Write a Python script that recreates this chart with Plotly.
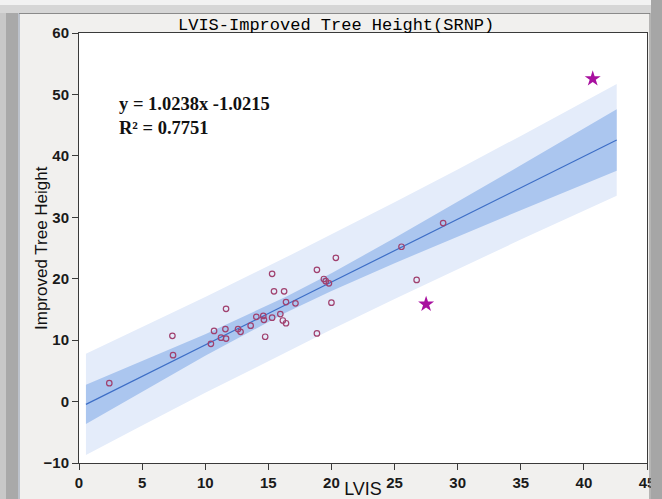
import plotly.graph_objects as go

# ---- data ----
lvis = [2.4, 7.4, 7.45, 10.45, 10.7, 11.25, 11.65, 11.6, 11.65, 12.6, 12.8, 13.6,
        14.05, 14.6, 14.65, 14.75, 15.3, 15.3, 15.45, 15.95, 16.15, 16.25, 16.4, 16.4,
        17.15, 18.85, 18.85, 19.4, 19.55, 19.8, 20.0, 20.35, 25.55, 28.85, 26.75]
height = [3.0, 10.7, 7.55, 9.4, 11.5, 10.4, 10.25, 11.8, 15.1, 11.8, 11.35, 12.35,
          13.8, 13.95, 13.3, 10.55, 13.65, 20.8, 17.95, 14.25, 13.2, 17.95, 12.75, 16.2,
          16.0, 21.45, 11.1, 19.95, 19.6, 19.25, 16.1, 23.4, 25.2, 29.05, 19.8]
outlier_x = [27.5, 40.7]
outlier_y = [15.85, 52.55]

band_x = [0.55, 5, 10, 16.4, 20, 25, 30, 35, 42.6]
fit_y = [-0.46, 4.10, 9.22, 15.77, 19.46, 24.57, 29.69, 34.81, 42.59]
conf_upper = [2.74, 6.57, 10.97, 17.06, 20.90, 26.61, 32.50, 38.47, 47.59]
conf_lower = [-3.66, 1.63, 7.47, 14.48, 18.02, 22.53, 26.88, 31.15, 37.59]
pred_upper = [7.79, 12.09, 17.02, 23.48, 27.20, 32.44, 37.79, 43.25, 51.69]
pred_lower = [-8.71, -3.89, 1.42, 8.06, 11.72, 16.70, 21.59, 26.37, 33.49]

x_ticks = [0, 5, 10, 15, 20, 25, 30, 35, 40, 45]
y_ticks = [-10, 0, 10, 20, 30, 40, 50, 60]

title_text = "LVIS-Improved Tree Height(SRNP)"
x_title = "LVIS"
y_title = "Improved Tree Height"
eq_text = "y = 1.0238x -1.0215"
r2_text = "R² = 0.7751"

W, H = 662, 499
L, R, T, B = 79, 647, 33, 463  # plot area in pixels


def px(xp):
    return (xp - L) / (R - L)


def py(yp):
    return (B - yp) / (B - T)


fig = go.Figure()

fig.add_trace(go.Scatter(
    x=band_x + band_x[::-1], y=pred_upper + pred_lower[::-1],
    fill="toself", fillcolor="#e4ecfa", line=dict(width=0), mode="lines",
    hoverinfo="skip", showlegend=False))
fig.add_trace(go.Scatter(
    x=band_x + band_x[::-1], y=conf_upper + conf_lower[::-1],
    fill="toself", fillcolor="#abc6ef", line=dict(width=0), mode="lines",
    hoverinfo="skip", showlegend=False))
fig.add_trace(go.Scatter(
    x=band_x, y=fit_y, mode="lines", line=dict(color="#3d6ec6", width=1.2),
    showlegend=False))
fig.add_trace(go.Scatter(
    x=lvis, y=height, mode="markers",
    marker=dict(symbol="circle-open", size=5.5, color="#a0406e", line=dict(width=1.2)),
    showlegend=False))
fig.add_trace(go.Scatter(
    x=outlier_x, y=outlier_y, mode="markers",
    marker=dict(symbol="star", size=12, color="#a8109f"),
    showlegend=False))

axis_common = dict(showgrid=False, zeroline=False, showline=True, mirror=True,
                   linecolor="#3a3a3a", linewidth=1, ticks="outside", ticklen=6,
                   tickcolor="#3a3a3a", automargin=False,
                   tickfont=dict(family="Liberation Sans", size=15, color="#1a1a1a",
                                 weight="bold"))

fig.update_xaxes(range=[0, 45], tickvals=x_ticks, **axis_common,
                 title=dict(text=x_title, standoff=0,
                            font=dict(family="Liberation Sans", size=18, color="#111")))
fig.update_yaxes(range=[-10, 60], tickvals=y_ticks, **axis_common)

shapes = [
    # window frame
    dict(type="rect", xref="paper", yref="paper", x0=px(0), x1=px(18), y0=py(0), y1=py(H),
         fillcolor="#a9a9a9", line=dict(width=0), layer="above"),
    dict(type="rect", xref="paper", yref="paper", x0=px(0), x1=px(6), y0=py(0), y1=py(H),
         fillcolor="#c8c8c8", line=dict(width=0), layer="above"),
    dict(type="rect", xref="paper", yref="paper", x0=px(0), x1=px(W), y0=py(0), y1=py(13),
         fillcolor="#d6d6d6", line=dict(width=0), layer="above"),
    dict(type="rect", xref="paper", yref="paper", x0=px(0), x1=px(W), y0=py(0), y1=py(5),
         fillcolor="#f2f2f2", line=dict(width=0), layer="above"),
    dict(type="rect", xref="paper", yref="paper", x0=px(651), x1=px(W), y0=py(0), y1=py(H),
         fillcolor="#a6a6a6", line=dict(width=0), layer="above"),
    dict(type="line", xref="paper", yref="paper", x0=px(19), x1=px(19), y0=py(13), y1=py(H),
         line=dict(color="#8894a8", width=1), layer="above"),
    dict(type="line", xref="paper", yref="paper", x0=px(19), x1=px(650), y0=py(13.5), y1=py(13.5),
         line=dict(color="#8a8a8a", width=1), layer="above"),
    dict(type="line", xref="paper", yref="paper", x0=px(650), x1=px(650), y0=py(13), y1=py(H),
         line=dict(color="#7a7a7a", width=1), layer="above"),
]

annotations = [
    dict(text=title_text, xref="paper", yref="paper", x=px(336), y=py(25),
         xanchor="center", yanchor="middle", showarrow=False,
         font=dict(family="Liberation Mono", size=17, color="#000000")),
    dict(text=y_title, xref="paper", yref="paper", x=px(41), y=py(248),
         xanchor="center", yanchor="middle", showarrow=False, textangle=-90,
         font=dict(family="Liberation Sans", size=17, color="#111")),
    dict(text=eq_text, xref="paper", yref="paper", x=px(117), y=py(104),
         xanchor="left", yanchor="middle", showarrow=False,
         font=dict(family="Liberation Serif", size=18.5, color="#111", weight="bold")),
    dict(text=r2_text, xref="paper", yref="paper", x=px(117), y=py(128),
         xanchor="left", yanchor="middle", showarrow=False,
         font=dict(family="Liberation Serif", size=18.5, color="#111", weight="bold")),
]

fig.update_layout(
    width=W, height=H,
    margin=dict(l=L, r=W - R, t=T, b=H - B, pad=0, autoexpand=False),
    paper_bgcolor="#f1f0ee", plot_bgcolor="#ffffff",
    shapes=shapes, annotations=annotations, showlegend=False,
)

fig.write_html(
    "out.html",
    config={"displayModeBar": False},
    post_script="document.body.style.margin='0';document.body.style.overflow='hidden';",
)
